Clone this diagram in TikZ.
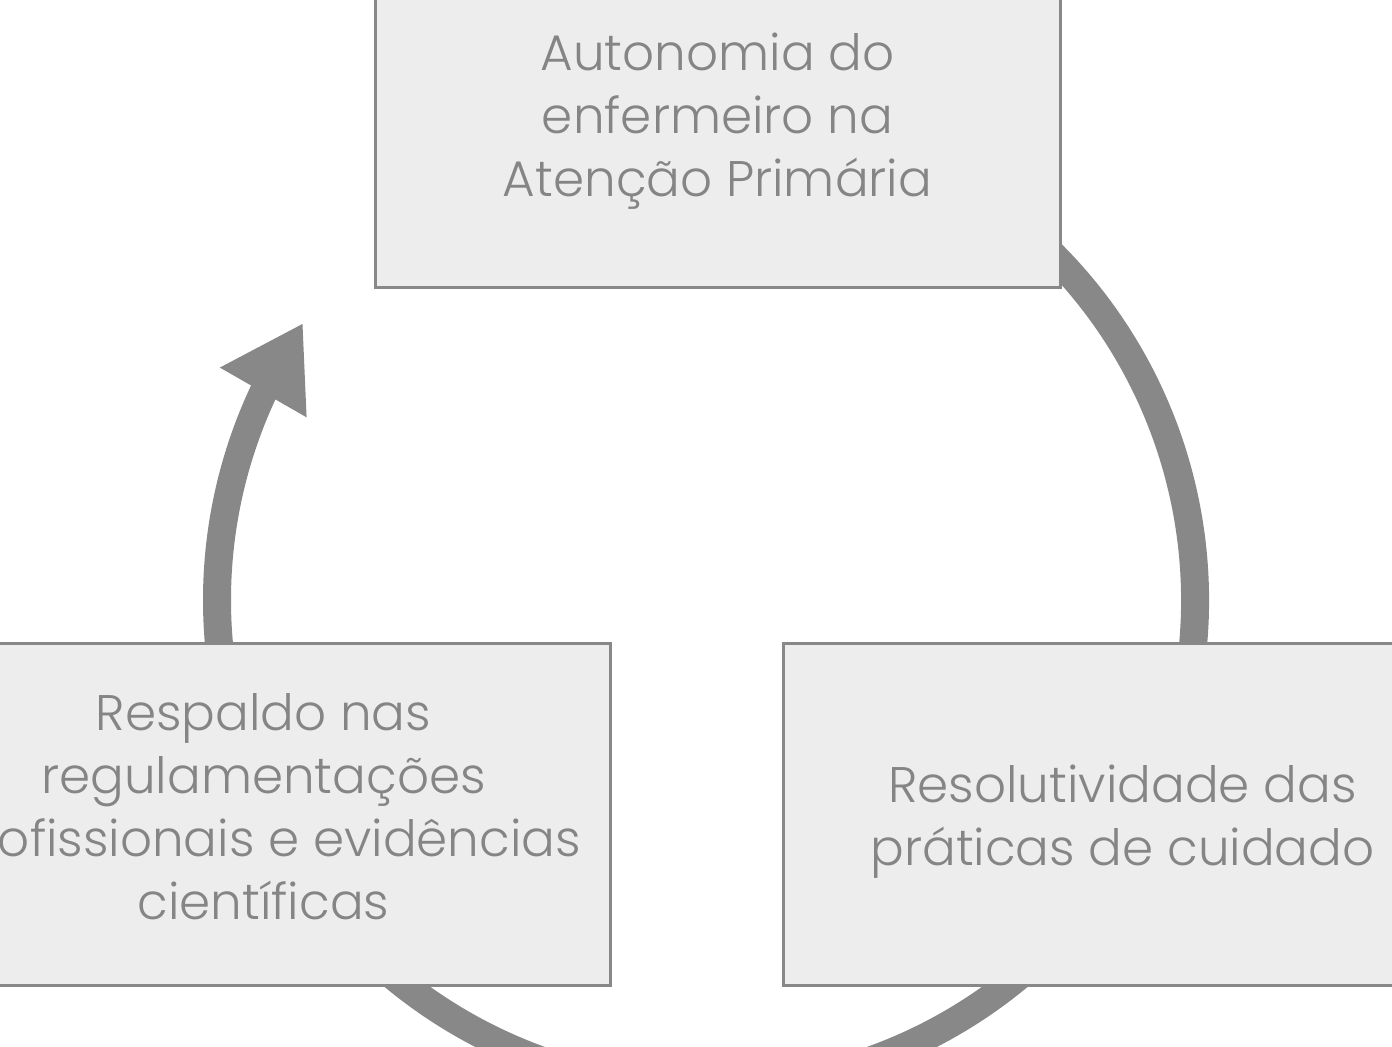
\documentclass[tikz,border=0pt]{standalone}
\usepackage{fontspec}
\setmainfont{Poppins Light}
\usepackage{tikz}
\usetikzlibrary{arrows.meta,bending}

\definecolor{boxfill}{HTML}{EDEDED}
\definecolor{linegray}{HTML}{888888}
\definecolor{textgray}{HTML}{858585}

\tikzstyle{themebox} = [rectangle, minimum width=342.5pt,
    minimum height=171pt, inner sep=0pt,
    draw=linegray, line width=1.5pt, fill=boxfill]
\tikzstyle{themetext} = [align=center, inner sep=0pt, text=textgray,
    font=\fontsize{25pt}{31.5pt}\selectfont]
\tikzstyle{cyclearrow} = [line width=14pt, draw=linegray,
    -{Triangle[length=40pt,width=47pt,flex]}]

\begin{document}
\begin{tikzpicture}[x=0.5pt, y=-0.5pt]
    \useasboundingbox (0,0) rectangle (1392,1046);
    \coordinate (centre) at (706,600);
    % the cycle arrow, under the boxes
    \draw [cyclearrow] (centre) ++(-60:489) arc [start angle=-60, end angle=214.5, radius=489];
    \node (autonomia) [themebox] at (717.5,116) {};
    \node (respaldo) [themebox] at (267.5,814) {};
    \node (resolutividade) [themebox] at (1125.5,814) {};
    % texts, a little off the box centres
    \node (autonomiatext) [themetext] at ([yshift=-2.5pt]autonomia.center) {Autonomia do\\enfermeiro na\\Atenção Primária};
    \node (respaldotext) [themetext] at ([xshift=-2pt,yshift=3.5pt]respaldo.center) {Respaldo nas\\regulamentações\\profissionais e evidências\\científicas};
    \node (resolutividadetext) [themetext] at ([xshift=-1.5pt,yshift=-4pt]resolutividade.center) {Resolutividade das\\práticas de cuidado};
\end{tikzpicture}
\end{document}
